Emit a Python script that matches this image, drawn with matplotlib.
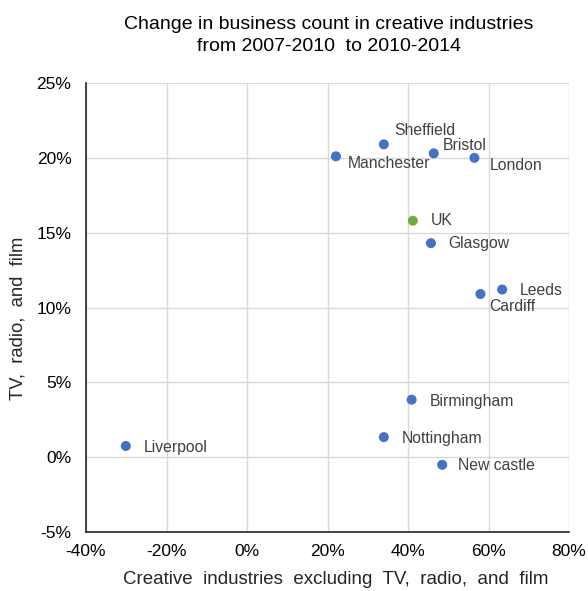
import matplotlib
matplotlib.use("Agg")
import matplotlib.pyplot as plt
from matplotlib.ticker import PercentFormatter, MultipleLocator

plt.rcParams['font.family'] = ['Liberation Sans', 'DejaVu Sans']
plt.rcParams['axes.unicode_minus'] = False

cities = ["Manchester", "Sheffield", "Bristol", "London", "UK", "Glasgow",
          "Leeds", "Cardiff", "Birmingham", "Nottingham", "New castle", "Liverpool"]
creative_excl = [22.1, 34.0, 46.4, 56.5, 41.2, 45.7, 63.4, 58.0, 40.9, 34.0, 48.5, -30.1]
tv_radio_film = [20.1, 20.9, 20.3, 20.0, 15.8, 14.3, 11.2, 10.9, 3.84, 1.34, -0.51, 0.75]

# label offsets in pixels (dx, dy downward)
label_offsets = {
    "Manchester": (12, 7), "Sheffield": (10, -14), "Bristol": (9, -8),
    "London": (15, 8), "UK": (18, 0), "Glasgow": (17, 0), "Leeds": (18, 1),
    "Cardiff": (9, 12), "Birmingham": (18, 2), "Nottingham": (18, 1),
    "New castle": (16, 1), "Liverpool": (18, 2),
}

W, H = 588, 591
fig = plt.figure(figsize=(W / 100, H / 100), dpi=100)
ax = fig.add_axes([86/W, 1 - 532/H, (569-86)/W, (532-83)/H])

colors = ["#70AD47" if c == "UK" else "#4472C4" for c in cities]
ax.scatter(creative_excl, tv_radio_film, s=52, c=colors, zorder=3, linewidths=0)

px2pt = 72 / 100
for c, x, y in zip(cities, creative_excl, tv_radio_film):
    dx, dy = label_offsets[c]
    ax.annotate(c, (x, y), xytext=(dx * px2pt, -dy * px2pt), textcoords="offset points",
                ha="left", va="center", fontsize=11.3, color="#404040")

ax.set_xlim(-40, 80)
ax.set_ylim(-5, 25)
ax.xaxis.set_major_locator(MultipleLocator(20))
ax.yaxis.set_major_locator(MultipleLocator(5))
ax.xaxis.set_major_formatter(PercentFormatter(decimals=0))
ax.yaxis.set_major_formatter(PercentFormatter(decimals=0))
ax.grid(True, color="#D9D9D9", linewidth=1)
ax.set_axisbelow(True)
for s in ["top", "right"]:
    ax.spines[s].set_visible(False)
for s in ["left", "bottom"]:
    ax.spines[s].set_color("#262626")
    ax.spines[s].set_linewidth(1.2)
ax.tick_params(axis='y', length=0, labelsize=12.5, colors="#000000", pad=10.5)
ax.tick_params(axis='x', length=0, labelsize=12.5, colors="#000000", pad=9)

ax.set_xlabel("Creative  industries  excluding  TV,  radio,  and  film", fontsize=13.5,
              color="#262626", va="center")
ax.xaxis.set_label_coords((336 - 86) / 483, (532 - 580) / 449)
ax.set_ylabel("TV,  radio,  and  film", fontsize=13.3, color="#262626", va="center")
ax.yaxis.set_label_coords((18 - 86) / 483, (532 - 318) / 449)

fig.text(329 / W, 1 - 35.5 / H,
         "Change in business count in creative industries\nfrom 2007-2010  to 2010-2014",
         ha="center", va="center", fontsize=14, color="#000000", linespacing=1.45)

fig.savefig("out.png", dpi=100)
